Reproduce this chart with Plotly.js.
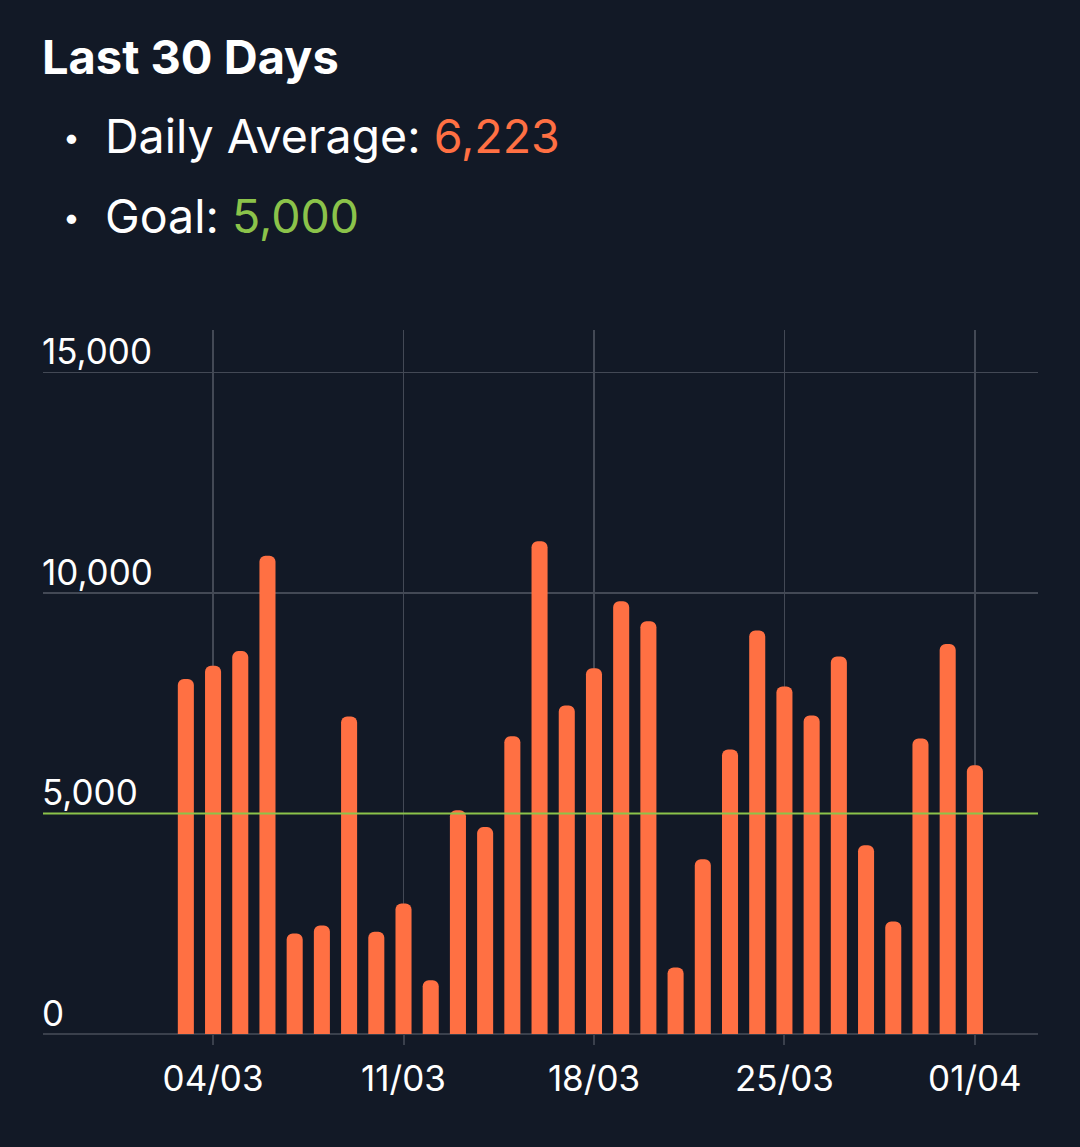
<!DOCTYPE html>
<html>
<head>
<meta charset="utf-8">
<script src="https://cdn.plot.ly/plotly-3.0.1.min.js"></script>
<style>
  html, body { margin: 0; padding: 0; background: #121926; }
  #chart { width: 1080px; height: 1147px; }
</style>
</head>
<body>
<div id="chart"></div>
<script>
const dates = [
  "2024-03-03","2024-03-04","2024-03-05","2024-03-06","2024-03-07","2024-03-08",
  "2024-03-09","2024-03-10","2024-03-11","2024-03-12","2024-03-13","2024-03-14",
  "2024-03-15","2024-03-16","2024-03-17","2024-03-18","2024-03-19","2024-03-20",
  "2024-03-21","2024-03-22","2024-03-23","2024-03-24","2024-03-25","2024-03-26",
  "2024-03-27","2024-03-28","2024-03-29","2024-03-30","2024-03-31","2024-04-01"
];
const steps = [
  8050, 8350, 8680, 10840, 2280, 2460, 7200, 2320, 2960, 1220,
  5070, 4690, 6750, 11170, 7450, 8290, 9810, 9360, 1510, 3960,
  6450, 9150, 7880, 7220, 8560, 4280, 2550, 6700, 8840, 6090
];
const dailyAverage = "6,223";
const goal = 5000;
const goalLabel = "5,000";
const titleText = "Last 30 Days";
const xRange = ["2024-02-26 18:00", "2024-04-03 07:40"];

const FONT = "Inter, 'Open Sans', sans-serif";
const ORANGE = "#ff7043";
const GREEN = "#8bc34a";
const BG = "#121926";
const GRID = "#434955";

const goalTrace = {
  type: "scatter",
  mode: "lines",
  x: xRange,
  y: [goal, goal],
  line: { color: GREEN, width: 2 },
  hoverinfo: "none",
  cliponaxis: false
};

const barTrace = {
  type: "bar",
  x: dates,
  y: steps,
  marker: { color: ORANGE, cornerradius: 6, line: { width: 0 } },
  hoverinfo: "none"
};

const layout = {
  width: 1080,
  height: 1147,
  paper_bgcolor: BG,
  plot_bgcolor: BG,
  margin: { l: 43, r: 42, t: 330, b: 113 },
  showlegend: false,
  bargap: 0.41,
  font: { family: FONT, color: "#ffffff", size: 35 },
  xaxis: {
    type: "date",
    range: xRange,
    tick0: "2024-03-04",
    dtick: 7 * 86400000,
    tickformat: "%d/%m",
    showgrid: true,
    gridcolor: GRID,
    gridwidth: 1.5,
    ticks: "outside",
    ticklen: 10,
    tickwidth: 2,
    tickcolor: "#3a404c",
    ticklabelstandoff: 4,
    showline: false,
    zeroline: false,
    tickfont: { family: FONT, size: 35, color: "#ffffff" },
    fixedrange: true
  },
  yaxis: {
    range: [0, 15960],
    dtick: 5000,
    tick0: 0,
    tickformat: ",d",
    ticklabelposition: "inside top",
    ticklabeloverflow: "allow",
    ticklabelshift: 4,
    ticklabelstandoff: -4,
    showgrid: true,
    gridcolor: GRID,
    gridwidth: 1.5,
    zeroline: true,
    zerolinecolor: "#3a404c",
    zerolinewidth: 2,
    showline: false,
    ticks: "",
    tickfont: { family: FONT, size: 35, color: "#ffffff" },
    fixedrange: true
  },
  annotations: [
    {
      xref: "paper", yref: "paper", x: -0.003, y: (1034 - 56) / 704,
      xanchor: "left", yanchor: "middle", showarrow: false,
      text: "<b>" + titleText + "</b>",
      font: { family: FONT, size: 47, color: "#ffffff" }
    },
    {
      xref: "paper", yref: "paper", x: 0.018, y: (1034 - 137) / 704,
      xanchor: "left", yanchor: "middle", showarrow: false,
      text: "•",
      font: { family: FONT, size: 30, color: "#ffffff" }
    },
    {
      xref: "paper", yref: "paper", x: 0.0603, y: (1034 - 136) / 704,
      xanchor: "left", yanchor: "middle", showarrow: false,
      text: "Daily Average: <span style='color:" + ORANGE + "'>" + dailyAverage + "</span>",
      font: { family: FONT, size: 46.5, color: "#ffffff" }
    },
    {
      xref: "paper", yref: "paper", x: 0.018, y: (1034 - 217) / 704,
      xanchor: "left", yanchor: "middle", showarrow: false,
      text: "•",
      font: { family: FONT, size: 30, color: "#ffffff" }
    },
    {
      xref: "paper", yref: "paper", x: 0.0603, y: (1034 - 216) / 704,
      xanchor: "left", yanchor: "middle", showarrow: false,
      text: "Goal: <span style='color:" + GREEN + "'>" + goalLabel + "</span>",
      font: { family: FONT, size: 46.5, color: "#ffffff" }
    }
  ]
};

Plotly.newPlot("chart", [goalTrace, barTrace], layout, { staticPlot: true, displayModeBar: false });
</script>
</body>
</html>
